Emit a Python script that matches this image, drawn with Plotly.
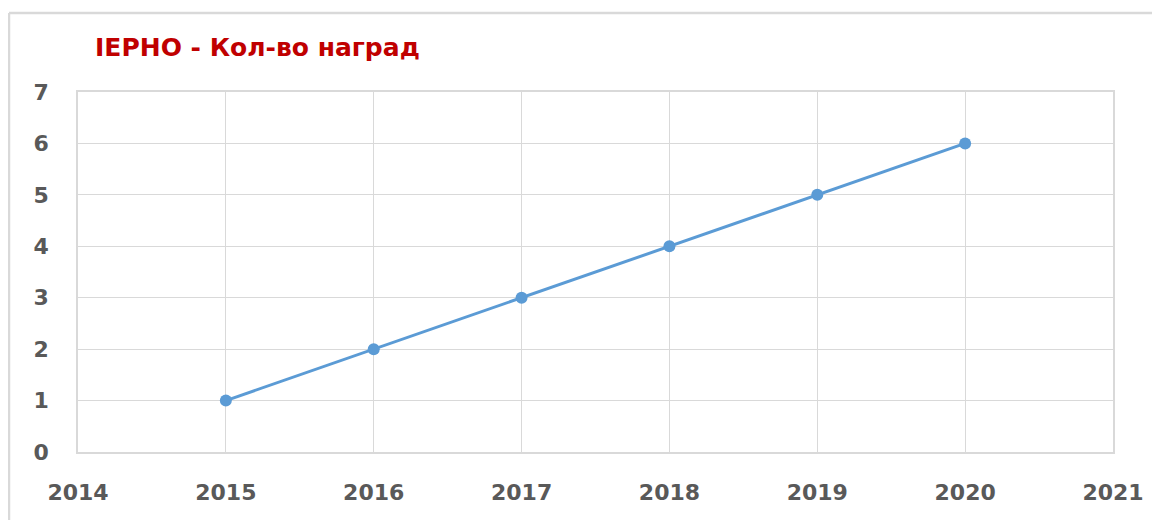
import plotly.graph_objects as go

years = [2015, 2016, 2017, 2018, 2019, 2020]
awards = [1, 2, 3, 4, 5, 6]
x_ticks = [2014, 2015, 2016, 2017, 2018, 2019, 2020, 2021]
y_ticks = [0, 1, 2, 3, 4, 5, 6, 7]
title_text = "IEPHO - Кол-во наград"

fig = go.Figure()
fig.add_trace(go.Scatter(
    x=years, y=awards, mode="lines+markers",
    line=dict(color="#5B9BD5", width=3),
    marker=dict(color="#5B9BD5", size=12),
    showlegend=False, cliponaxis=False,
))

# page body has an 8px margin; positions below are in figure coords
OFF = 8
W, H = 1160 - OFF, 520 - OFF
L, T = 78 - OFF, 92 - OFF
R = W - (1113 - OFF)
B = H - (452 - OFF)
pw, ph = W - L - R, H - T - B

FONT = "DejaVu Sans"
frame_x = (9 - 78) / pw
frame_y = 1 + (92 - 13) / ph
frame_line = dict(color="#D9D9D9", width=2.5)

fig.update_layout(
    width=W, height=H,
    margin=dict(l=L, r=R, t=T, b=B),
    paper_bgcolor="white", plot_bgcolor="white",
    font=dict(family=FONT, color="#595959"),
    title=dict(text=title_text, x=(95 - OFF) / W, xanchor="left", y=1 - (47 - OFF) / H, yanchor="middle",
               font=dict(family=FONT, size=25, color="#C00000", weight="bold")),
    xaxis=dict(range=[2014, 2021], tickvals=x_ticks, ticktext=[str(v) for v in x_ticks],
               showgrid=True, gridcolor="#D9D9D9", gridwidth=1,
               showline=True, linecolor="#D9D9D9", linewidth=1.5, mirror=True,
               zeroline=False, ticks="", ticklabelstandoff=20,
               tickfont=dict(size=22, color="#595959", weight="bold")),
    yaxis=dict(range=[0, 7], tickvals=y_ticks,
               showgrid=True, gridcolor="#D9D9D9", gridwidth=1,
               showline=True, linecolor="#D9D9D9", linewidth=1.5, mirror=True,
               zeroline=False, ticks="", ticklabelstandoff=23,
               tickfont=dict(size=22, color="#595959", weight="bold")),
    shapes=[
        dict(type="line", xref="paper", yref="paper", x0=frame_x, x1=1.2, y0=frame_y, y1=frame_y,
             line=frame_line, layer="below"),
        dict(type="line", xref="paper", yref="paper", x0=frame_x, x1=frame_x, y0=frame_y, y1=-0.5,
             line=frame_line, layer="below"),
    ],
)

fig.write_html("out.html")
